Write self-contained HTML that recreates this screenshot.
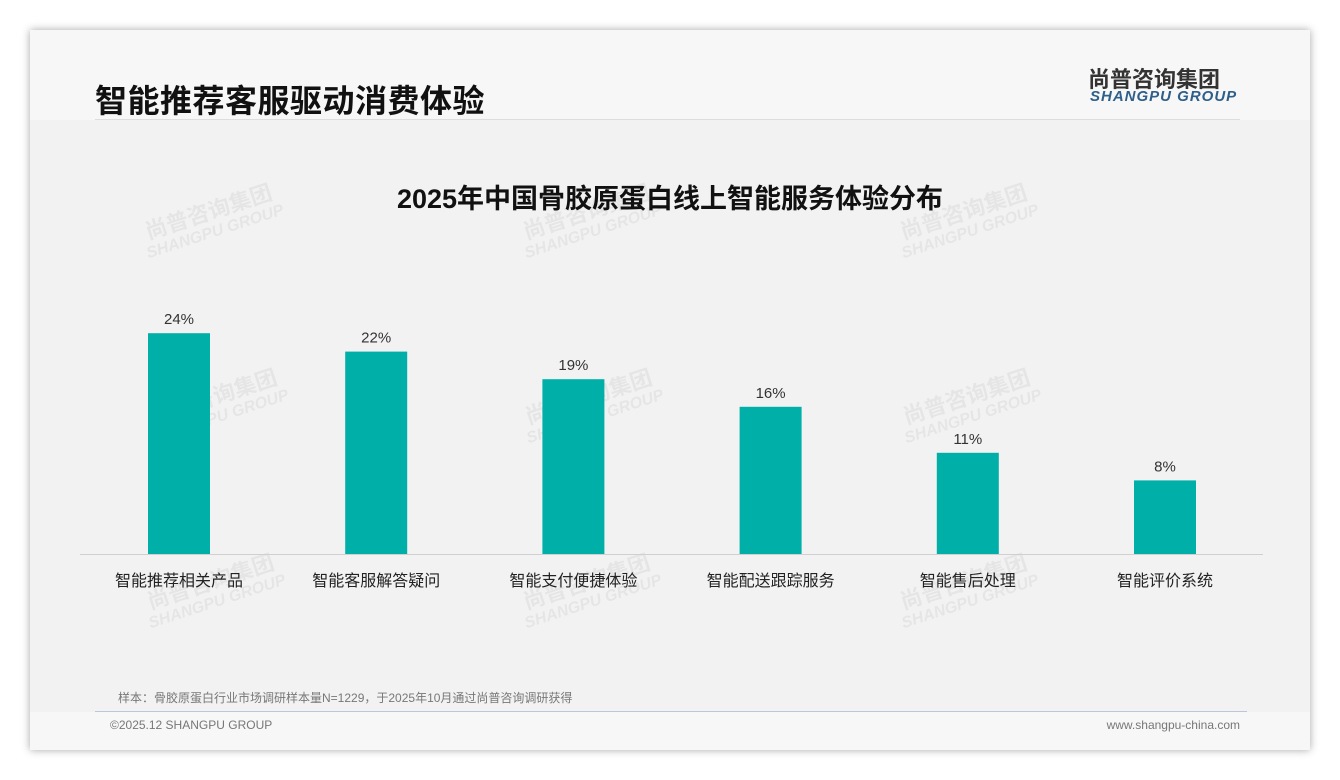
<!DOCTYPE html>
<html><head><meta charset="utf-8">
<style>
body{margin:0;width:1340px;height:780px;background:#fff;font-family:"Liberation Sans","Noto Sans CJK SC",sans-serif;position:relative;overflow:hidden}
.card{position:absolute;left:30px;top:30px;width:1280px;height:720px;background:#f7f7f7;box-shadow:0 0 8px rgba(0,0,0,.35)}
.inner{position:absolute;left:30px;top:120px;width:1280px;height:592px;background:#f2f2f2}
.t{position:absolute;white-space:nowrap}
.wm{position:absolute;color:rgba(0,0,0,.05);font-weight:bold;transform:rotate(-18deg);line-height:1.1;text-align:center}
</style></head><body>
<div class="card"></div>
<div class="inner"></div>
<div class="t" style="left:95px;top:76px;font-size:32px;letter-spacing:0.5px;font-weight:bold;color:#111">智能推荐客服驱动消费体验</div>
<div class="t" style="left:1088px;top:62px;font-size:22px;font-weight:bold;color:#333">尚普咨询集团</div>
<div class="t" style="left:1090px;top:88px;font-size:15px;font-weight:bold;font-style:italic;color:#2e5f8a;letter-spacing:1px">SHANGPU GROUP</div>
<div style="position:absolute;left:95px;top:119px;width:1145px;height:1px;background:#ddd"></div>
<div class="t" style="left:0;width:1340px;text-align:center;top:177px;font-size:27px;font-weight:bold;color:#111">2025年中国骨胶原蛋白线上智能服务体验分布</div>
<div id="wms"></div>
<svg id="chart" width="1340" height="780" style="position:absolute;left:0;top:0"></svg>
<div class="t" style="left:118px;top:689px;font-size:12px;color:#777">样本：骨胶原蛋白行业市场调研样本量N=1229，于2025年10月通过尚普咨询调研获得</div>
<div style="position:absolute;left:95px;top:711px;width:1152px;height:1px;background:#b8c8d8"></div>
<div class="t" style="left:110px;top:718px;font-size:12px;color:#777">©2025.12 SHANGPU GROUP</div>
<div class="t" style="right:100px;top:718px;font-size:12px;color:#777">www.shangpu-china.com</div>
<script>
const categories=["智能推荐相关产品","智能客服解答疑问","智能支付便捷体验","智能配送跟踪服务","智能售后处理","智能评价系统"];
const values=[24,22,19,16,11,8];
const valueLabels=["24%","22%","19%","16%","11%","8%"];
const svg=document.getElementById('chart');const NS="http://www.w3.org/2000/svg";
const baseY=554,pxPer=9.2,x0=179,step=197.2,bw=62;
const y=v=>baseY-v*pxPer;const x=i=>x0+i*step;
const ax=document.createElementNS(NS,'line');
ax.setAttribute('x1',80);ax.setAttribute('x2',1263);ax.setAttribute('y1',baseY+0.5);ax.setAttribute('y2',baseY+0.5);ax.setAttribute('stroke','#d0d0d0');


svg.appendChild(ax);
values.forEach((v,i)=>{
 const r=document.createElementNS(NS,'rect');
 r.setAttribute('x',x(i)-bw/2);r.setAttribute('y',y(v));r.setAttribute('width',bw);r.setAttribute('height',baseY-y(v));r.setAttribute('fill','#00b0a8');
 
 
 svg.appendChild(r);
 const t=document.createElementNS(NS,'text');
 t.setAttribute('x',x(i));t.setAttribute('y',y(v)-9);t.setAttribute('text-anchor','middle');t.setAttribute('font-size','15');t.setAttribute('fill','#333');t.textContent=valueLabels[i];
 
 
 svg.appendChild(t);
 const c=document.createElementNS(NS,'text');
 c.setAttribute('x',x(i));c.setAttribute('y',586);c.setAttribute('text-anchor','middle');c.setAttribute('font-size','16');c.setAttribute('fill','#222');c.textContent=categories[i];
 
 
 svg.appendChild(c);
});
const wms=document.getElementById('wms');
[[140,200],[518,200],[895,200],[145,385],[520,385],[898,385],[142,570],[518,570],[895,570]].forEach(p=>{
 const d=document.createElement('div');d.className='wm';d.style.left=p[0]+'px';d.style.top=p[1]+'px';
 d.innerHTML='<div style="font-size:22px">尚普咨询集团</div><div style="font-size:16px;font-style:italic">SHANGPU GROUP</div>';
 
 
 wms.appendChild(d);
});
</script>
</body></html>
